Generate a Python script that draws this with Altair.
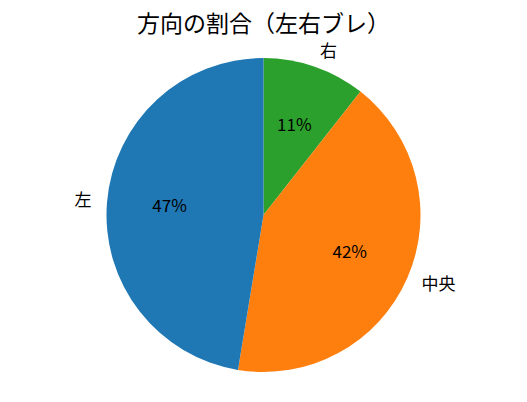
import altair as alt
import pandas as pd

categories = ["右", "中央", "左"]
values = [10.6, 42.0, 47.4]
colors = ["#2ca02c", "#ff7f0e", "#1f77b4"]
title_text = "方向の割合（左右ブレ）"

df = pd.DataFrame({"name": categories, "value": values, "idx": list(range(len(categories)))})

FONT = "Noto Sans CJK JP"
PAD = 6
CX, CY, R = 255.5 - PAD, 207 - PAD, 157

base = alt.Chart(df).transform_window(
    cum="sum(value)", sort=[alt.SortField("idx")], frame=[None, 0]
).transform_joinaggregate(total="sum(value)").transform_calculate(
    start="datum.cum - datum.value",
    mid="datum.cum - datum.value/2",
    pct="format(datum.value / datum.total * 100, '.0f') + '%'",
    side="sin(2*PI*(datum.cum - datum.value/2)/datum.total) >= 0 ? 'R' : 'L'",
)

theta_scale = alt.Scale(domain=[0, 100], range=[0, 6.283185307179586])

arcs = base.mark_arc(radius=R).encode(
    theta=alt.Theta("start:Q", scale=theta_scale),
    theta2="cum:Q",
    color=alt.Color("name:N", scale=alt.Scale(domain=categories, range=colors), legend=None),
    x=alt.value(CX),
    y=alt.value(CY),
)

pct = base.mark_text(radius=R * 0.6, font=FONT, fontSize=17, baseline="middle", align="center", color="black").encode(
    theta=alt.Theta("mid:Q", scale=theta_scale),
    text="pct:N",
    x=alt.value(CX),
    y=alt.value(CY),
)

lab_r = base.transform_filter("datum.side == 'R'").mark_text(
    radius=R * 1.1, font=FONT, fontSize=17, baseline="middle", align="left", color="black"
).encode(
    theta=alt.Theta("mid:Q", scale=theta_scale),
    text="name:N",
    x=alt.value(CX),
    y=alt.value(CY),
)

lab_l = base.transform_filter("datum.side == 'L'").mark_text(
    radius=R * 1.1, font=FONT, fontSize=17, baseline="middle", align="right", color="black"
).encode(
    theta=alt.Theta("mid:Q", scale=theta_scale),
    text="name:N",
    x=alt.value(CX),
    y=alt.value(CY),
)

title = alt.Chart(pd.DataFrame({"t": [title_text]})).mark_text(
    font=FONT, fontSize=23, baseline="middle", align="center", color="black"
).encode(text="t:N", x=alt.value(CX), y=alt.value(17 - PAD))

chart = alt.layer(arcs, pct, lab_r, lab_l, title).properties(
    width=505 - 2 * PAD, height=380 - 2 * PAD, padding=PAD, autosize="none"
).configure_view(strokeOpacity=0, strokeWidth=0)

chart.save("out.html", embed_options={"renderer": "svg", "actions": False})
